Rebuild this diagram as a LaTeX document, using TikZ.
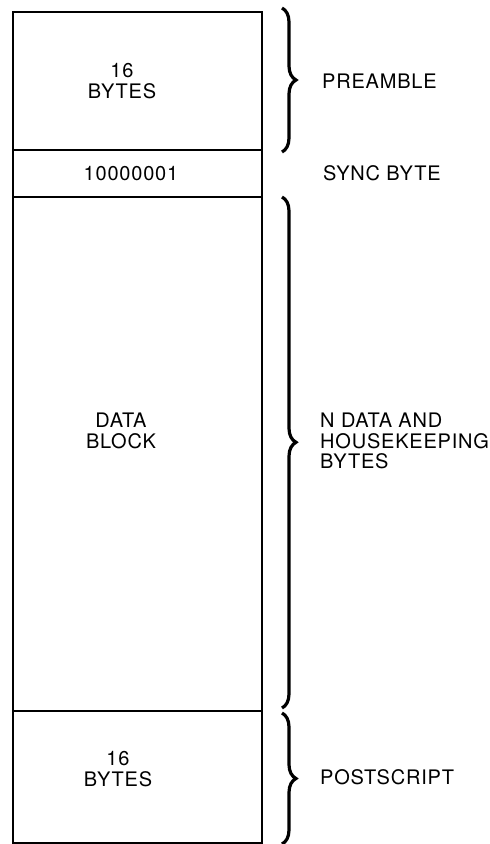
\documentclass[tikz,border=0pt]{standalone}
\usepackage{fontspec}
\setmainfont{TeX Gyre Heros}[LetterSpace=4]
\usetikzlibrary{positioning,decorations.pathreplacing}

\tikzset{
    cell/.style={draw, line width=2.5pt, minimum width=249pt, inner sep=0pt, outer sep=0pt},
    txt/.style={align=center, inner sep=0pt, font=\fontsize{20}{21.5}\selectfont},
    lbl/.style={align=left, inner sep=0pt, anchor=west, font=\fontsize{20}{20.5}\selectfont},
    bracedec/.style={decorate, decoration={brace, amplitude=14pt}, line width=3.2pt}
}

\begin{document}
\begin{tikzpicture}[x=1pt, y=-1pt]

    % fundo / margens
    \useasboundingbox (0,0) rectangle (490,844);

    % ==========================================
    % 1. CELULAS DO QUADRO
    % ==========================================
    \node[cell, minimum height=138pt] (pre) at (137.5,81) {};
    \node[cell, minimum height=47pt, below=0pt of pre] (sync) {};
    \node[cell, minimum height=514pt, below=0pt of sync] (data) {};
    \node[cell, minimum height=132pt, below=0pt of data] (post) {};

    % textos dentro das celulas
    \node[txt] (preTxt) at ([xshift=-15.5pt]pre.center) {16\\BYTES};
    \node[txt] (syncTxt) at ([xshift=-6.5pt]sync.center) {10000001};
    \node[txt] (dataTxt) at ([xshift=-16.5pt,yshift=23pt]data.center) {DATA\\BLOCK};
    \node[txt] (postTxt) at ([xshift=-19.5pt,yshift=8pt]post.center) {16\\BYTES};

    % ==========================================
    % 2. CHAVES E ROTULOS (direita)
    % ==========================================
    \draw[bracedec] ([xshift=20pt,yshift=4pt]pre.north east) -- ([xshift=20pt,yshift=-2pt]pre.south east);
    \draw[bracedec, decoration={aspect=0.48}] ([xshift=20pt]data.north east) -- ([xshift=20pt,yshift=3pt]data.south east);
    \draw[bracedec] ([xshift=20pt,yshift=-2pt]post.north east) -- ([xshift=20pt,yshift=-1pt]post.south east);

    \node[lbl, right=60pt of pre.east] (preLbl) {PREAMBLE};
    \node[lbl, right=61pt of sync.east] (syncLbl) {SYNC BYTE};
    \node[lbl] (dataLbl) at ([xshift=58pt,yshift=13pt]data.east) {N DATA AND\\HOUSEKEEPING\\BYTES};
    \node[lbl, right=58pt of post.east] (postLbl) {POSTSCRIPT};

\end{tikzpicture}
\end{document}
